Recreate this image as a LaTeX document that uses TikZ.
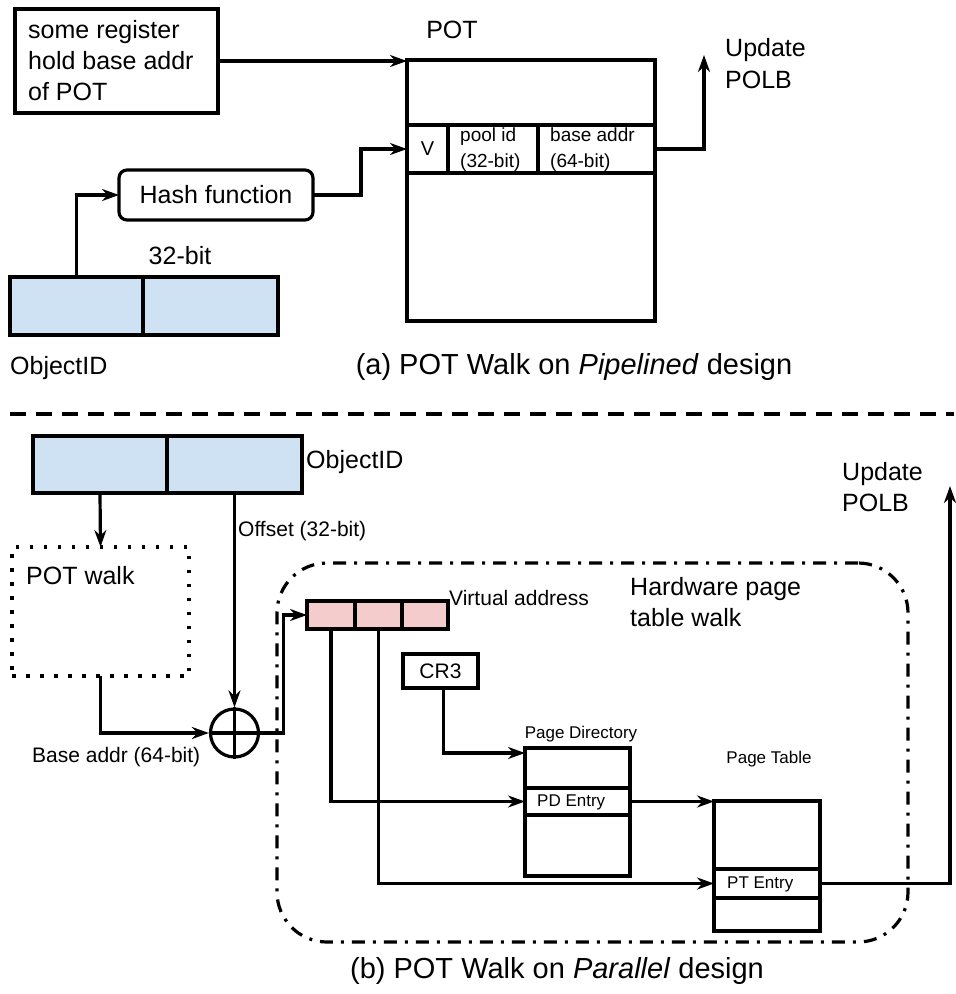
\documentclass[tikz,border=0pt]{standalone}
\usepackage{fontspec}
\setmainfont{Liberation Sans}
\usetikzlibrary{arrows.meta,calc}
\begin{document}
\begin{tikzpicture}[x=1pt,y=-1pt,
  lw/.style={line width=3.2pt},
  box/.style={draw, lw, inner sep=0pt, outer sep=0pt, anchor=north west},
  arr/.style={lw, -{Stealth[length=17pt,width=12pt,inset=5.5pt]}},
  fA/.style={font=\fontsize{25pt}{31pt}\selectfont},
  fB/.style={font=\fontsize{20pt}{26pt}\selectfont},
  fC/.style={font=\fontsize{17pt}{20pt}\selectfont},
  fCap/.style={font=\fontsize{29pt}{34pt}\selectfont},
  txt/.style={inner sep=0pt, anchor=west, align=left},
  oidfill/.style={fill={rgb,255:red,207;green,226;blue,243}},
  vafill/.style={fill={rgb,255:red,244;green,204;blue,204}},
]
\useasboundingbox (0,0) rectangle (956,994);

% ---------------- (a) pipelined design ----------------
\node[box, minimum width=203pt, minimum height=104pt] (reg) at (15,9) {};
\node[txt, fA] (regtxt) at (28,61) {some register\\hold base addr\\of POT};

\node[box, minimum width=248pt, minimum height=261pt] (pot) at (407,60) {};
\node[inner sep=0pt, fA] (pottitle) at (452,30) {POT};
\node[box, minimum width=41pt, minimum height=48pt] (vcell) at (407,125) {};
\node[box, minimum width=90pt, minimum height=48pt] (poolcell) at (448,125) {};
\node[box, minimum width=117pt, minimum height=48pt] (basecell) at (538,125) {};
\node[inner sep=0pt, fB] (vtxt) at (vcell.center) {V};
\node[txt, font=\fontsize{19pt}{26pt}\selectfont] (pooltxt) at (460,150) {pool id\\(32-bit)};
\node[txt, font=\fontsize{19pt}{26pt}\selectfont] (basetxt) at (550,150) {base addr\\(64-bit)};

\node[box, rounded corners=8pt, minimum width=194pt, minimum height=50pt] (hash) at (119,170) {};
\node[inner sep=0pt, fA] (hashtxt) at (hash.center) {Hash function};

\node[box, oidfill, minimum width=133pt, minimum height=58pt] (oidA) at (10,277) {};
\node[box, oidfill, minimum width=135pt, minimum height=58pt] (oidB) at (143,277) {};
\node[inner sep=0pt, fA] (bits) at (180,256) {32-bit};
\node[txt, fA] (oidlabel) at (10,368) {ObjectID};

\coordinate (updA) at (704,55);
\node[txt, font=\fontsize{25pt}{32pt}\selectfont] (updAtxt) at (725,64) {Update\\POLB};

\draw[arr] (reg.east) -- (reg.east -| pot.west);
\draw[arr] (oidA.north) |- (hash.west);
\draw[arr] (hash.east) -- ++(48,0) |- (vcell.west);
\draw[arr] (basecell.east) -| (updA);

\node[inner sep=0pt, fCap] (capA) at (574,367) {(a) POT Walk on \textit{Pipelined} design};

% ---------------- separator ----------------
\coordinate (sepL) at (10,414);
\coordinate (sepR) at (954,414);
\draw[lw, dash pattern=on 16pt off 10pt] (sepL) -- (sepR);

% ---------------- (b) parallel design ----------------
\node[box, oidfill, minimum width=134pt, minimum height=57pt] (oid2A) at (33,436) {};
\node[box, oidfill, minimum width=135pt, minimum height=57pt] (oid2B) at (167,436) {};
\node[txt, fA] (oid2label) at (306,462) {ObjectID};

\node[box, line width=3.5pt, line cap=butt, dash pattern=on 3.5pt off 10.5pt, minimum width=177pt, minimum height=129pt] (potwalk) at (12,547) {};
\node[txt, fA] (potwalktxt) at (26,576) {POT walk};

\node[circle, draw, lw, minimum size=48pt, inner sep=0pt] (plus) at (234.5,733) {};
\draw[lw] (plus.north) -- (plus.south) (plus.west) -- (plus.east);

\node[txt, font=\fontsize{21pt}{26pt}\selectfont] (offtxt) at (238,531) {Offset (32-bit)};
\node[txt, font=\fontsize{21pt}{26pt}\selectfont] (basetxt2) at (32,757) {Base addr (64-bit)};

\draw[arr] (oid2A.south) -- (potwalk.north);
\draw[arr] (oid2B.south) -- (plus.north);
\draw[arr] (potwalk.south) |- (plus.west);

% hardware page table walk frame
\node[box, rounded corners=50pt, dash pattern=on 13pt off 8pt on 3pt off 8pt, minimum width=631pt, minimum height=379pt] (hw) at (277,563) {};
\node[txt, fA] (hwtxt) at (630,602) {Hardware page\\table walk};

\node[box, vafill, minimum width=48pt, minimum height=28pt] (vaA) at (307,601) {};
\node[box, vafill, minimum width=47pt, minimum height=28pt] (vaB) at (355,601) {};
\node[box, vafill, minimum width=46pt, minimum height=28pt] (vaC) at (402,601) {};
\node[txt, font=\fontsize{21pt}{26pt}\selectfont] (vatxt) at (449,598) {Virtual address};

\draw[arr] (plus.east) -- ++(23,0) |- (vaA.west);

\node[box, minimum width=75pt, minimum height=34pt] (cr3) at (403,654) {};
\node[inner sep=0pt, font=\fontsize{21pt}{26pt}\selectfont] (cr3txt) at (cr3.center) {CR3};

\node[box, minimum width=105pt, minimum height=128pt] (pd) at (525,748) {};
\node[box, minimum width=105pt, minimum height=27pt] (pdE) at (525,788) {};
\node[inner sep=0pt, fC] (pdtitle) at (581,734) {Page Directory};
\node[txt, fC] (pdEtxt) at (537,802) {PD Entry};

\node[box, minimum width=106pt, minimum height=130pt] (pt) at (714,801) {};
\node[box, minimum width=106pt, minimum height=29pt] (ptE) at (714,869) {};
\node[inner sep=0pt, fC] (pttitle) at (769,759) {Page Table};
\node[txt, fC] (ptEtxt) at (727,884) {PT Entry};

\coordinate (updB) at (950,486);
\node[txt, fA] (updBtxt) at (842,487) {Update\\POLB};

\draw[arr] ([xshift=3pt]cr3.south) |- ($(pd.north west)+(0,5)$);
\draw[arr] (vaA.south) |- (pdE.west);
\draw[arr] (vaB.south) |- (ptE.west);
\draw[arr] (pdE.east) -- (pdE.east -| pt.west);
\draw[arr] (ptE.east) -| (updB);

\node[inner sep=0pt, fCap] (capB) at (557,971) {(b) POT Walk on \textit{Parallel} design};
\end{tikzpicture}
\end{document}
